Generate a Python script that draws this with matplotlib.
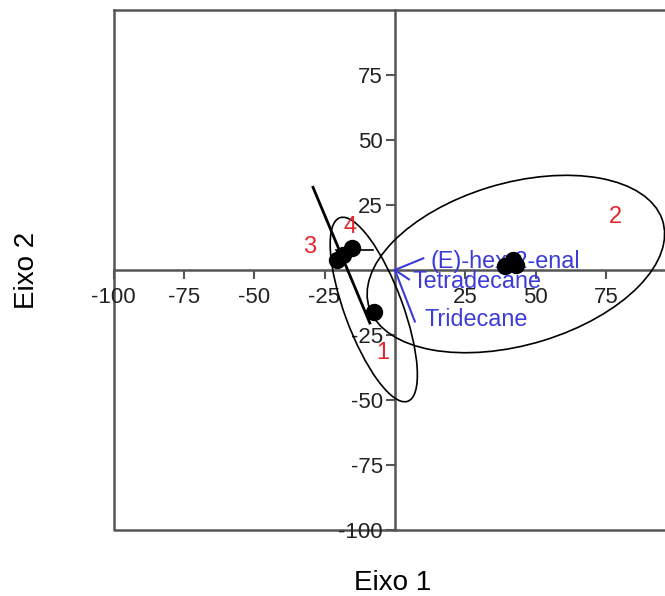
import matplotlib
matplotlib.use("Agg")
import matplotlib.pyplot as plt
from matplotlib.patches import Ellipse

# scores per group
g1_x = [-7.5]
g1_y = [-16.0]
g2_x = [39.0, 42.0, 43.0]
g2_y = [1.5, 4.0, 1.8]
g3_x = [-20.7, -18.5]
g3_y = [3.8, 5.7]
g4_x = [-15.4]
g4_y = [8.3]

# confidence ellipses: centre x, centre y, width, height, angle
ell_1 = (-7.5, -15.2, 74.6, 20.8, 108.7)
ell_2 = (43.0, 2.3, 109.5, 62.0, 18.4)
# degenerate ellipses (two points -> segments)
seg_3_x = [-29.1, -8.9]
seg_3_y = [31.8, -20.4]
seg_4_x = [-21.0, -7.7]
seg_4_y = [7.8, 7.8]

group_labels = ["1", "2", "3", "4"]
group_lab_x = [-4.3, 78.3, -30.2, -16.0]
group_lab_y = [-32.0, 20.4, 8.9, 16.6]

# loadings
var_names = ["(E)-hex-2-enal", "Tetradecane", "Tridecane"]
var_x = [10.1, 5.0, 7.1]
var_y = [4.5, -3.6, -19.8]
var_lab_x = [12.5, 6.3, 10.7]
var_lab_y = [3.2, -4.5, -19.2]

xticks = [-100, -75, -50, -25, 25, 50, 75]
yticks = [75, 50, 25, -25, -50, -75, -100]


def main():
    plt.rcParams["font.family"] = ["Liberation Sans", "DejaVu Sans"]
    axcol = "#555555"
    blue = "#3b3bd9"
    red = "#e3262b"

    fig = plt.figure(figsize=(6.65, 5.96), dpi=100)
    ax = fig.add_axes([113.5 / 665, 66 / 596, 551.5 / 665, 520 / 596])
    ax.set_xlim(-100, 96)
    ax.set_ylim(-100, 100)

    ax.spines["left"].set_position(("data", 0))
    ax.spines["bottom"].set_position(("data", 0))
    ax.spines["right"].set_visible(False)
    for s in ["left", "bottom", "top"]:
        ax.spines[s].set_color(axcol)
        ax.spines[s].set_linewidth(1.8)
    # outer frame
    ax.plot([0, 0, 1], [1, 0, 0], transform=ax.transAxes, color=axcol,
            lw=1.8, clip_on=False, zorder=1)

    ax.set_xticks(xticks)
    ax.set_xticklabels([str(t) for t in xticks])
    ax.set_yticks(yticks)
    ax.set_yticklabels([str(t) for t in yticks])
    ax.tick_params(direction="out", length=6.5, width=1.5, color=axcol,
                   labelsize=16, labelcolor="#222222", pad=2)
    ax.tick_params(axis="x", pad=6)

    for e in (ell_1, ell_2):
        ax.add_patch(Ellipse((e[0], e[1]), e[2], e[3], angle=e[4],
                             fill=False, ec="black", lw=1.2, zorder=3))
    ax.plot(seg_3_x, seg_3_y, color="black", lw=2.0, zorder=3)
    ax.plot(seg_4_x, seg_4_y, color="black", lw=1.2, zorder=3)

    for gx, gy in ((g1_x, g1_y), (g2_x, g2_y), (g3_x, g3_y), (g4_x, g4_y)):
        ax.plot(gx, gy, "o", color="black", ms=11.5, zorder=5)

    for lab, lx, ly in zip(group_labels, group_lab_x, group_lab_y):
        ax.text(lx, ly, lab, color=red, fontsize=17, ha="center",
                va="center", zorder=6)

    for name, vx, vy, lx, ly in zip(var_names, var_x, var_y,
                                    var_lab_x, var_lab_y):
        ax.plot([0, vx], [0, vy], color=blue, lw=1.5, zorder=4)
        ax.text(lx, ly, name, color=blue, fontsize=16.8, ha="left",
                va="center", zorder=4)

    fig.text(393 / 665, 1 - 583 / 596, "Eixo 1", fontsize=20,
             ha="center", va="center")
    fig.text(27 / 665, 1 - 270 / 596, "Eixo 2", fontsize=20,
             ha="center", va="center", rotation=90)

    fig.savefig("out.png", dpi=100)
    plt.close(fig)


if __name__ == '__main__':
    main()
